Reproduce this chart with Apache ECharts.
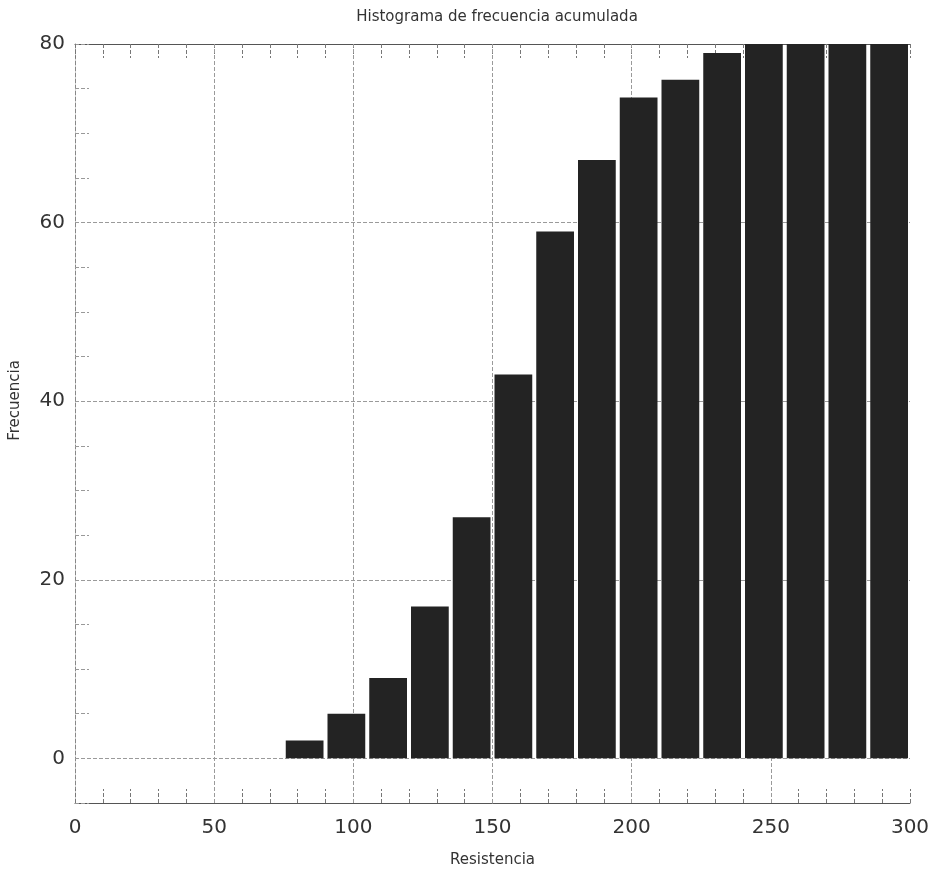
<!DOCTYPE html>
<html>
<head>
<meta charset="utf-8">
<script src="https://cdn.jsdelivr.net/npm/echarts@6/dist/echarts.min.js"></script>
<style>
html,body{margin:0;padding:0;background:#fff;}
#chart{width:934px;height:874px;}
</style>
</head>
<body>
<div id="chart"></div>
<script>
// Data: bins of resistance (lower and upper edges) and cumulative frequency
var binStart = [75, 90, 105, 120, 135, 150, 165, 180, 195, 210, 225, 240, 255, 270, 285];
var binEnd   = [90, 105, 120, 135, 150, 165, 180, 195, 210, 225, 240, 255, 270, 285, 300];
var cumFreq  = [2, 5, 9, 17, 27, 43, 59, 67, 74, 76, 79, 80, 80, 80, 80];
var xTickLabels = [0, 50, 100, 150, 200, 250, 300];
var yTickLabels = [0, 20, 40, 60, 80];
var hGrid = [0, 20, 40, 60];
var vGrid = [50, 100, 150, 200, 250];

var titleText = 'Histograma de frecuencia acumulada';
var xName = 'Resistencia';
var yName = 'Frecuencia';

var seriesData = binStart.map(function (s, i) { return [s, binEnd[i], cumFreq[i]]; });

var FONT = 'DejaVu Sans';
var chart = echarts.init(document.getElementById('chart'), null, {renderer: 'canvas'});

var option = {
  backgroundColor: '#ffffff',
  animation: false,
  title: {
    text: titleText,
    left: 492, top: 5, textAlign: 'center',
    textStyle: {fontFamily: FONT, fontSize: 15, fontWeight: 'normal', color: '#333'}
  },
  grid: {left: 74, right: 24, top: 44, bottom: 71, containLabel: false},
  xAxis: [{
    type: 'value', min: 0, max: 300, interval: 10, position: 'bottom',
    name: xName, nameLocation: 'middle', nameGap: 50,
    nameTextStyle: {fontFamily: FONT, fontSize: 15, color: '#333'},
    axisLine: {show: true, onZero: false, lineStyle: {color: '#555', width: 1}},
    axisTick: {show: true, inside: true, length: 14, lineStyle: {color: '#777', type: 'dashed'}},
    axisLabel: {
      fontFamily: FONT, fontSize: 20, color: '#333', margin: 15,
      formatter: function (v) { return xTickLabels.indexOf(v) >= 0 ? String(v) : ''; }
    },
    splitLine: {show: false}
  }, {
    type: 'value', min: 0, max: 300, interval: 10, position: 'top',
    axisLine: {show: true, onZero: false, lineStyle: {color: '#555', width: 1}},
    axisTick: {show: true, inside: true, length: 14, lineStyle: {color: '#777', type: 'dashed'}},
    axisLabel: {show: false},
    splitLine: {show: false}
  }],
  yAxis: [{
    type: 'value', min: -5, max: 80, interval: 5,
    name: yName, nameLocation: 'middle', nameGap: 52,
    nameTextStyle: {fontFamily: FONT, fontSize: 15, color: '#333', padding: [0, 0, 0, 46]},
    axisLine: {show: true, onZero: false, lineStyle: {color: '#888', width: 1, type: 'dashed'}},
    axisTick: {show: true, inside: true, length: 14, lineStyle: {color: '#999', type: 'dashed'}},
    axisLabel: {
      fontFamily: FONT, fontSize: 20, color: '#333', margin: 10,
      formatter: function (v) { return yTickLabels.indexOf(v) >= 0 ? String(v) : ''; }
    },
    splitLine: {show: false}
  }],
  series: [{
    type: 'line',
    data: [],
    z: 1,
    silent: true,
    markLine: {
      silent: true, symbol: 'none', label: {show: false},
      lineStyle: {color: '#9a9a9a', type: 'dashed', width: 1},
      data: hGrid.map(function (v) { return {yAxis: v}; })
        .concat(vGrid.map(function (v) { return {xAxis: v}; }))
    }
  }, {
    type: 'custom',
    xAxisIndex: 0, yAxisIndex: 0,
    data: seriesData,
    encode: {x: [0, 1], y: 2},
    renderItem: function (params, api) {
      var p0 = api.coord([api.value(0), api.value(2)]);
      var p1 = api.coord([api.value(1), 0]);
      var gap = 2;
      return {
        type: 'rect',
        shape: {x: p0[0] + gap, y: p0[1], width: p1[0] - p0[0] - 2 * gap, height: p1[1] - p0[1]},
        style: {fill: '#232323'}
      };
    },
    z: 5
  }]
};
chart.setOption(option);
</script>
</body>
</html>
